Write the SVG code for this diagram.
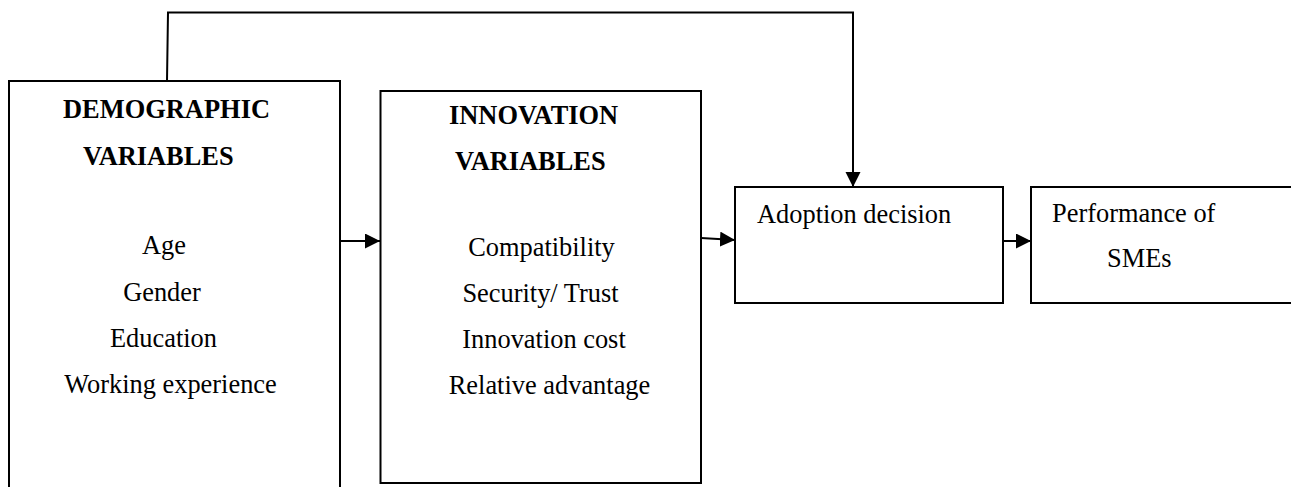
<svg xmlns="http://www.w3.org/2000/svg" width="1291" height="487" viewBox="0 0 1291 487">
<style>
.box{fill:#fff;stroke:#000;stroke-width:2}
.t{font-family:"Liberation Serif","Times New Roman",serif;font-size:26.4px;fill:#000}
.b{font-weight:bold}
.c{fill:none;stroke:#000;stroke-width:2}
</style>
<defs>
<marker id="ah" markerUnits="userSpaceOnUse" markerWidth="16" markerHeight="16" refX="15" refY="7.5" orient="auto">
<path d="M0,0 L15,7.5 L0,15 Z" fill="#000"/>
</marker>
</defs>
<rect width="1291" height="487" fill="#fff"/>
<g id="demographic">
<path class="box" d="M9,495 L9,81 L340,81 L340,495"/>
<text class="t b" x="63" y="118" textLength="207" lengthAdjust="spacingAndGlyphs">DEMOGRAPHIC</text>
<text class="t b" x="83" y="165">VARIABLES</text>
<text class="t" x="164" y="254" text-anchor="middle">Age</text>
<text class="t" x="162" y="301" text-anchor="middle">Gender</text>
<text class="t" x="163.5" y="347" text-anchor="middle">Education</text>
<text class="t" x="170.5" y="393" text-anchor="middle">Working experience</text>
</g>
<g id="innovation">
<rect class="box" x="380.5" y="91" width="320.5" height="392"/>
<text class="t b" x="449" y="124">INNOVATION</text>
<text class="t b" x="455" y="170">VARIABLES</text>
<text class="t" x="541.5" y="256" text-anchor="middle">Compatibility</text>
<text class="t" x="540.5" y="302" text-anchor="middle">Security/ Trust</text>
<text class="t" x="544" y="348" text-anchor="middle">Innovation cost</text>
<text class="t" x="549.5" y="394" text-anchor="middle">Relative advantage</text>
</g>
<g id="adoption">
<rect class="box" x="735" y="187" width="268" height="116"/>
<text class="t" x="757" y="223">Adoption decision</text>
</g>
<g id="performance">
<rect class="box" x="1031" y="187" width="270" height="116"/>
<text class="t" x="1052" y="222">Performance of</text>
<text class="t" x="1107" y="267">SMEs</text>
</g>
<g id="connectors">
<path class="c" d="M167,81 L168,12.5 L853,12.5 L853,187" marker-end="url(#ah)"/>
<path class="c" d="M340,241 L380,241" marker-end="url(#ah)"/>
<path class="c" d="M701,238 L735,240" marker-end="url(#ah)"/>
<path class="c" d="M1003,241 L1031,241" marker-end="url(#ah)"/>
</g>
</svg>
